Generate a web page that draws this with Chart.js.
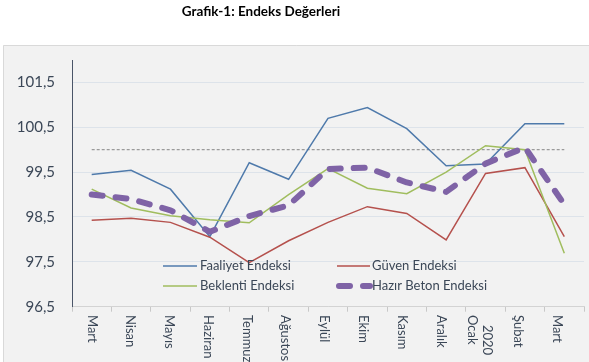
<!DOCTYPE html>
<html><head><meta charset="utf-8">
<script src="https://cdn.jsdelivr.net/npm/chart.js@4"></script>
<style>html,body{margin:0;padding:0;background:#fff;overflow:hidden}</style>
</head><body>
<canvas id="c" width="589" height="362"></canvas>
<script>
const titleText = 'Grafik-1: Endeks Değerleri';
const categories = ['Mart','Nisan','Mayıs','Haziran','Temmuz','Ağustos','Eylül','Ekim','Kasım','Aralık',['2020','Ocak'],'Şubat','Mart'];
const faaliyet = [99.45, 99.54, 99.12, 98.06, 99.71, 99.34, 100.70, 100.94, 100.47, 99.64, 99.68, 100.58, 100.58];
const guven    = [98.43, 98.47, 98.38, 98.05, 97.48, 97.97, 98.38, 98.73, 98.58, 97.99, 99.47, 99.60, 98.06];
const beklenti = [99.12, 98.70, 98.53, 98.44, 98.37, 99.00, 99.58, 99.14, 99.02, 99.50, 100.09, 100.00, 97.69];
const hazir    = [99.00, 98.90, 98.65, 98.17, 98.52, 98.76, 99.57, 99.60, 99.27, 99.06, 99.69, 100.05, 98.78];
const esik     = [100, 100, 100, 100, 100, 100, 100, 100, 100, 100, 100, 100, 100];
const seriesNames = ['Faaliyet Endeksi','Güven Endeksi','Beklenti Endeksi','Hazır Beton Endeksi'];
const yTicks = [96.5, 97.5, 98.5, 99.5, 100.5, 101.5];

const FONT = 'Lato, "Noto Sans", sans-serif';
const TEXT = '#3b4757';

const bgPlugin = {
  id: 'bg',
  beforeDraw(chart) {
    const ctx = chart.ctx;
    ctx.save();
    ctx.fillStyle = '#ffffff';
    ctx.fillRect(0, 0, chart.width, chart.height);
    ctx.fillStyle = '#f2f2f2';
    ctx.fillRect(3, 45, chart.width - 3, chart.height - 45);
    ctx.strokeStyle = '#d9d9d9';
    ctx.lineWidth = 1;
    ctx.beginPath();
    ctx.moveTo(3.5, chart.height);
    ctx.lineTo(3.5, 45.5);
    ctx.lineTo(chart.width, 45.5);
    ctx.stroke();
    ctx.fillStyle = '#000000';
    ctx.font = 'bold 13.5px ' + FONT;
    ctx.textAlign = 'center';
    ctx.textBaseline = 'middle';
    ctx.fillText(titleText, 261, 12);
    ctx.restore();
  }
};

const xLabelPlugin = {
  id: 'xlabels',
  afterDraw(chart) {
    const ctx = chart.ctx, xs = chart.scales.x;
    ctx.save();
    ctx.font = '13px ' + FONT;
    ctx.fillStyle = TEXT;
    ctx.textAlign = 'left';
    ctx.textBaseline = 'middle';
    categories.forEach((lab, i) => {
      const x = xs.getPixelForValue(i) - 0.6 * i;
      const lines = Array.isArray(lab) ? lab : [lab];
      ctx.save();
      ctx.translate(x, 315);
      ctx.rotate(Math.PI / 2);
      if (lines.length === 1) {
        ctx.fillText(lines[0], 0, 0);
      } else {
        ctx.fillText(lines[0], 10, -7.5);
        ctx.fillText(lines[1], 0, 7.5);
      }
      ctx.restore();
    });
    ctx.restore();
  }
};

const legendPlugin = {
  id: 'customLegend',
  afterDatasetsDraw(chart) {
    const ctx = chart.ctx;
    const items = [
      {ds: 0, x1: 163, x2: 197, y: 266, tx: 200},
      {ds: 1, x1: 337, x2: 370, y: 266, tx: 372},
      {ds: 2, x1: 163, x2: 197, y: 286, tx: 200},
      {ds: 3, x1: 339, x2: 370, y: 286, tx: 372}
    ];
    ctx.save();
    items.forEach(it => {
      const d = chart.data.datasets[it.ds];
      ctx.strokeStyle = d.borderColor;
      ctx.lineWidth = d.borderWidth;
      ctx.lineCap = d.borderCapStyle || 'butt';
      ctx.setLineDash(d.borderDash || []);
      ctx.beginPath();
      ctx.moveTo(it.x1, it.y);
      ctx.lineTo(it.x2, it.y);
      ctx.stroke();
      ctx.setLineDash([]);
      ctx.fillStyle = TEXT;
      ctx.font = '13px ' + FONT;
      ctx.textAlign = 'left';
      ctx.textBaseline = 'middle';
      ctx.fillText(d.label, it.tx, it.y);
    });
    ctx.restore();
  }
};

new Chart(document.getElementById('c'), {
  type: 'line',
  data: {
    labels: categories,
    datasets: [
      {label: seriesNames[0], data: faaliyet, borderColor: '#4f7aab', borderWidth: 1.5, order: 4},
      {label: seriesNames[1], data: guven, borderColor: '#b5514d', borderWidth: 1.5, order: 3},
      {label: seriesNames[2], data: beklenti, borderColor: '#a0bd5e', borderWidth: 1.5, order: 2},
      {label: seriesNames[3], data: hazir, borderColor: '#7f63a6', borderWidth: 6, borderDash: [11, 13], borderCapStyle: 'round', borderJoinStyle: 'round', order: 1},
      {label: 'Eşik', data: esik, borderColor: '#9a9a9a', borderWidth: 1.3, borderDash: [3, 2], order: 6}
    ]
  },
  options: {
    responsive: false,
    animation: false,
    devicePixelRatio: 1,
    layout: {padding: {top: 60, right: 5, left: 0, bottom: 0}},
    elements: {line: {tension: 0, fill: false}, point: {radius: 0, hoverRadius: 0}},
    plugins: {legend: {display: false}, tooltip: {enabled: false}, title: {display: false}},
    scales: {
      x: {
        type: 'category',
        offset: true,
        ticks: {display: false},
        grid: {display: true, offset: true, drawOnChartArea: false, drawTicks: true, tickLength: 5, color: '#c8c8c8'},
        border: {display: true, color: '#d3d3d3'},
        afterFit(s) { s.height = 55.3; }
      },
      y: {
        min: 96.5,
        max: 102,
        afterBuildTicks(s) { s.ticks = yTicks.map(v => ({value: v})); },
        ticks: {
          font: {family: FONT, size: 15},
          color: TEXT,
          padding: 17,
          callback: v => Number(v).toFixed(1).replace('.', ',')
        },
        grid: {color: '#dde3ea', drawTicks: false},
        border: {display: true, color: '#4a5568', width: 1},
        afterFit(s) { s.width = 72; }
      }
    }
  },
  plugins: [bgPlugin, xLabelPlugin, legendPlugin]
});
</script>
</body></html>
